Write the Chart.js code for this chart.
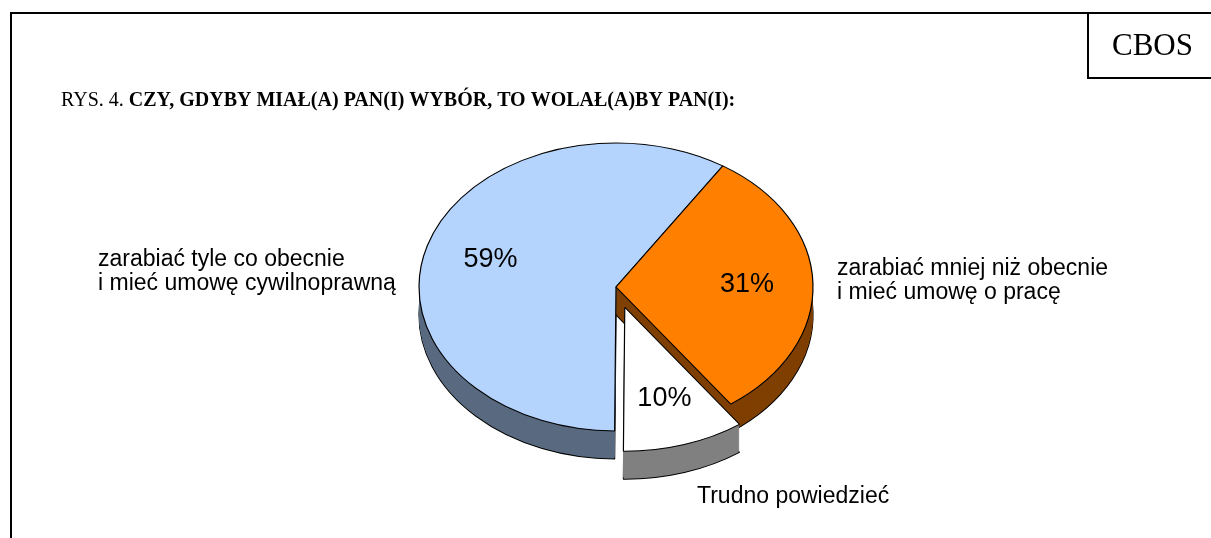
<!DOCTYPE html>
<html><head><meta charset="utf-8">
<script src="https://cdn.jsdelivr.net/npm/chart.js@4"></script>
<style>html,body{margin:0;padding:0;background:#fff;}canvas{display:block;}</style>
</head><body>
<canvas id="c" width="1211" height="538"></canvas>
<script>
// ---- data ----
const categories = ['zarabiać tyle co obecnie i mieć umowę cywilnoprawną', 'zarabiać mniej niż obecnie i mieć umowę o pracę', 'Trudno powiedzieć'];
const values = [59, 31, 10];
const labelLines = [['zarabiać tyle co obecnie', 'i mieć umowę cywilnoprawną'], ['zarabiać mniej niż obecnie', 'i mieć umowę o pracę'], ['Trudno powiedzieć']];
const titlePrefix = 'RYS. 4. ';
const titleBold = 'CZY, GDYBY MIAŁ(A) PAN(I) WYBÓR, TO WOLAŁ(A)BY PAN(I):';
const brand = 'CBOS';

// ---- style ----
const topColors = ['#b4d4fe', '#ff8000', '#ffffff'];
const sideColors = ['#596a80', '#7f3f00', '#808080'];
const explodeOffsets = [0, 0, 29];
const TILT = 0.731;
const DEPTH = 28;
const LABEL_R = 0.665;
const labelPos = [{x: 98, y: 266}, {x: 837, y: 275}, {x: 697, y: 503}];

function copyOpts(o, extra) {
  const n = {};
  for (const k in o) n[k] = o[k];
  Object.getOwnPropertyNames(o).forEach(k => { if (!(k in n)) n[k] = o[k]; });
  return Object.assign(n, extra);
}

const pie3d = {
  id: 'pie3d',
  beforeDraw(chart) {
    const ctx = chart.ctx;
    ctx.save();
    ctx.fillStyle = '#fff';
    ctx.fillRect(0, 0, chart.width, chart.height);
    ctx.fillStyle = '#000';
    ctx.fillRect(10, 12, 1211 - 10, 2);   // top frame line
    ctx.fillRect(10, 12, 2, 538 - 12);    // left frame line
    ctx.fillRect(1087, 12, 2, 67);         // CBOS box left
    ctx.fillRect(1087, 77, 1211 - 1087, 2); // CBOS box bottom
    ctx.restore();
  },
  beforeDatasetsDraw(chart) {
    const ctx = chart.ctx;
    const arcs = chart.getDatasetMeta(0).data;
    const cx = arcs[0].x, cy = arcs[0].y;
    const explode = (i) => {
      const a = arcs[i];
      const mid = (a.startAngle + a.endAngle) / 2;
      const off = explodeOffsets[i];
      return [Math.cos(mid) * off, Math.sin(mid) * off * TILT];
    };
    function drawLayer(dy, colors, bw) {
      arcs.forEach((a, i) => {
        const [ex, ey] = explode(i);
        ctx.save();
        ctx.translate(ex, ey + dy);
        ctx.translate(cx, cy); ctx.scale(1, TILT); ctx.translate(-cx, -cy);
        const o = a.options;
        a.options = copyOpts(o, {backgroundColor: colors[i], borderWidth: bw, borderColor: '#000', offset: 0});
        a.draw(ctx);
        a.options = o;
        ctx.restore();
      });
    }
    drawLayer(DEPTH, sideColors, 1.2);
    for (let d = DEPTH - 1; d > 0; d--) drawLayer(d, sideColors, 0);
    drawLayer(0, topColors, 1.2);
    return false;
  },
  afterDraw(chart) {
    const ctx = chart.ctx;
    const arcs = chart.getDatasetMeta(0).data;
    ctx.save();
    ctx.fillStyle = '#000';
    ctx.textBaseline = 'middle';
    ctx.textAlign = 'center';
    ctx.font = '27px "Liberation Sans", Arial, sans-serif';
    arcs.forEach((a, i) => {
      const mid = (a.startAngle + a.endAngle) / 2;
      const r = a.outerRadius * LABEL_R;
      const off = explodeOffsets[i];
      const x = a.x + Math.cos(mid) * (r + off);
      const y = a.y + Math.sin(mid) * (r + off) * TILT;
      ctx.fillText(values[i] + '%', x, y);
    });
    ctx.textBaseline = 'alphabetic';
    ctx.textAlign = 'left';
    ctx.font = '23px "Liberation Sans", Arial, sans-serif';
    labelLines.forEach((lines, i) => {
      lines.forEach((t, j) => ctx.fillText(t, labelPos[i].x, labelPos[i].y + j * 24));
    });
    // title
    ctx.font = '20px "Liberation Serif", "Times New Roman", serif';
    ctx.fillText(titlePrefix, 61, 106);
    const w = ctx.measureText(titlePrefix).width;
    ctx.font = 'bold 20px "Liberation Serif", "Times New Roman", serif';
    ctx.fillText(titleBold, 61 + w, 106);
    ctx.font = '31px "Liberation Serif", "Times New Roman", serif';
    ctx.fillText(brand, 1112, 55);
    ctx.restore();
  }
};

new Chart(document.getElementById('c'), {
  type: 'pie',
  data: {
    labels: categories,
    datasets: [{
      data: values,
      backgroundColor: topColors,
      borderColor: '#000',
      borderWidth: 1.2,
      hoverOffset: 0
    }]
  },
  options: {
    responsive: false,
    animation: false,
    events: [],
    rotation: 180.4,
    radius: 197,
    layout: {padding: {left: 21, right: 0, top: 36, bottom: 0}},
    plugins: {legend: {display: false}, tooltip: {enabled: false}}
  },
  plugins: [pie3d]
});
</script>
</body></html>
